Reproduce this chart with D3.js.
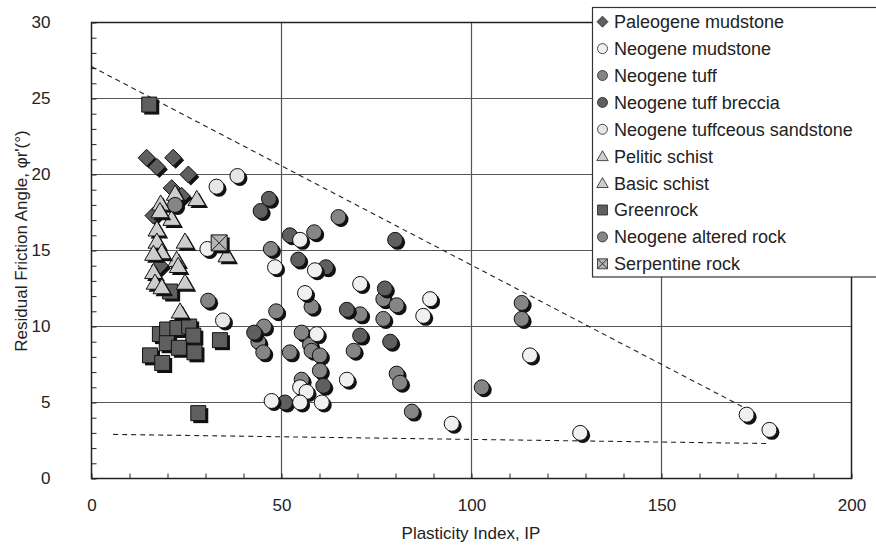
<!DOCTYPE html>
<html><head><meta charset="utf-8">
<script src="https://cdn.jsdelivr.net/npm/d3@7"></script>
<style>
body{margin:0;background:#fff;}
svg text{font-family:"Liberation Sans",Arial,sans-serif;fill:#222;}
</style></head>
<body><svg id="c" width="876" height="548"></svg>
<script>
// ---- data ----
const categories = ["Paleogene mudstone","Neogene mudstone","Neogene tuff","Neogene tuff breccia",
  "Neogene tuffceous sandstone","Pelitic schist","Basic schist","Greenrock","Neogene altered rock","Serpentine rock"];
const paleogeneMudstone = [[14.5,21.1],[17.2,20.5],[21.5,21.1],[25.5,20.0],[21.1,19.1],[23.7,18.6],[16.3,17.3],[18.0,14.0]];
const neogeneMudstone = [[30.5,15.1],[48.3,13.9],[54.9,15.7],[58.8,13.7],[56.2,12.2],[59.3,9.5],[54.9,6.0],[56.6,5.7],
  [67.2,6.5],[47.4,5.1],[54.9,5.0],[60.6,5.0],[70.7,12.8],[89.1,11.8],[87.3,10.7],[115.4,8.1],[94.8,3.6],[128.6,3.0],[172.4,4.2],[178.4,3.2]];
const neogeneTuff = [[22.0,18.0],[30.7,11.7],[65.0,17.2],[58.6,16.2],[47.2,15.1],[57.9,11.3],[48.6,11.0],[45.4,10.0],
  [55.3,9.6],[43.9,9.0],[45.2,8.3],[57.5,8.8],[57.9,8.4]];
const neogeneTuffBreccia = [[46.7,18.4],[44.5,17.6],[52.2,16.0],[54.4,14.4],[61.7,13.9],[67.2,11.1],[42.8,9.6],[70.7,9.4],
  [78.6,9.0],[61.0,6.1],[50.9,5.0],[77.2,12.5],[79.9,15.7]];
const neogeneTuffceousSandstone = [[32.9,19.2],[38.4,19.9],[34.6,10.4]];
const peliticSchist = [[22.0,18.75],[27.7,18.4],[18.2,18.1],[21.1,17.1],[17.2,16.4],[24.6,15.6],[22.4,14.4],[24.6,12.9],[23.3,11.0]];
const basicSchist = [[18.0,17.6],[17.2,15.6],[18.5,14.9],[16.3,14.8],[22.8,14.0],[16.3,13.6],[16.7,12.9],[18.5,12.6],[35.6,14.7]];
const greenrock = [[15.2,24.6],[20.7,12.3],[18.0,9.5],[19.9,9.8],[22.6,9.9],[25.7,10.0],[26.8,9.4],[19.8,8.9],[23.0,8.6],
  [27.1,8.3],[15.4,8.1],[18.6,7.6],[33.8,9.1],[28.1,4.3]];
const neogeneAlteredRock = [[52.2,8.3],[60.1,8.1],[60.1,7.1],[69.0,8.4],[55.3,6.5],[80.3,6.9],[81.2,6.3],[76.8,11.8],
  [80.3,11.4],[70.7,10.8],[76.8,10.5],[113.2,11.55],[113.2,10.5],[102.7,6.0],[84.3,4.4]];
const serpentineRock = [[33.6,15.5]];
const upperLine = [[0,27.1],[171.5,4.7]];
const lowerLine = [[5.7,2.9],[178,2.3]];
const xTicks = [0,50,100,150,200];
const yTicks = [0,5,10,15,20,25,30];

// ---- layout ----
const M = {l:91.5, t:22.5, w:760, h:456};
const svg = d3.select("#c");
const x = d3.scaleLinear().domain([0,200]).range([M.l, M.l+M.w]);
const y = d3.scaleLinear().domain([0,30]).range([M.t+M.h, M.t]);

// grid
const g = svg.append("g");
g.selectAll(".hg").data(yTicks.slice(1,-1)).join("line")
  .attr("x1",x(0)).attr("x2",x(200)).attr("y1",d=>y(d)).attr("y2",d=>y(d))
  .attr("stroke","#555").attr("stroke-width",1.2);
g.selectAll(".vg").data(xTicks.slice(1,-1)).join("line")
  .attr("y1",y(0)).attr("y2",y(30)).attr("x1",d=>x(d)).attr("x2",d=>x(d))
  .attr("stroke","#555").attr("stroke-width",1.2);

// axes with minor inward ticks
const yAx = svg.append("g").attr("transform",`translate(${M.l},0)`)
  .call(d3.axisLeft(y).tickValues(d3.range(0,31,1)).tickSize(-5).tickFormat(""));
const xAx = svg.append("g").attr("transform",`translate(0,${M.t+M.h})`)
  .call(d3.axisBottom(x).tickValues(d3.range(0,201,10)).tickSize(-5).tickFormat(""));
[yAx,xAx].forEach(a=>{a.select(".domain").remove(); a.selectAll("line").attr("stroke","#222");});
// tick labels
svg.append("g").attr("transform",`translate(${M.l},0)`)
  .call(d3.axisLeft(y).tickValues(yTicks).tickSize(0).tickPadding(41))
  .call(a=>a.select(".domain").remove())
  .selectAll("text").attr("font-size",17).attr("fill","#222");
svg.append("g").attr("transform",`translate(0,${M.t+M.h})`)
  .call(d3.axisBottom(x).tickValues(xTicks).tickSize(0).tickPadding(20))
  .call(a=>a.select(".domain").remove())
  .selectAll("text").attr("font-size",17).attr("fill","#222");
// frame
svg.append("rect").attr("x",M.l).attr("y",M.t).attr("width",M.w).attr("height",M.h)
  .attr("fill","none").attr("stroke","#222").attr("stroke-width",1.5);

// titles
svg.append("text").attr("x",471).attr("y",539).attr("text-anchor","middle").attr("font-size",17)
  .text("Plasticity Index, IP");
svg.append("text").attr("transform","translate(27,241) rotate(-90)").attr("text-anchor","middle").attr("font-size",17)
  .text("Residual Friction Angle, \u03c6r'(\u00b0)");

// dashed lines
const line = d3.line().x(d=>x(d[0])).y(d=>y(d[1]));
[upperLine,lowerLine].forEach(l=>svg.append("path").attr("d",line(l)).attr("fill","none")
  .attr("stroke","#222").attr("stroke-width",1.1).attr("stroke-dasharray","5,4"));

// markers
const DARK="#5f5f5f", MED="#858585", LIGHT="#cdcdcd", WHITE="#f0f0f0";
function shapePath(kind, s){
  // s = half size
  if(kind==="circle") return d3.symbol().type(d3.symbolCircle).size(Math.PI*s*s)();
  if(kind==="square"||kind==="xsquare") return `M${-s},${-s}H${s}V${s}H${-s}Z`;
  if(kind==="diamond") return `M0,${-s}L${s},0L0,${s}L${-s},0Z`;
  if(kind==="triangle") return `M0,${-s*1.05}L${s*1.1},${s*0.85}L${-s*1.1},${s*0.85}Z`;
}
const series = [
  {name:categories[7], data:greenrock, kind:"square", fill:DARK, s:7.5},
  {name:categories[0], data:paleogeneMudstone, kind:"diamond", fill:DARK, s:8.5},
  {name:categories[5], data:peliticSchist, kind:"triangle", fill:LIGHT, s:8},
  {name:categories[6], data:basicSchist, kind:"triangle", fill:LIGHT, s:8},
  {name:categories[2], data:neogeneTuff, kind:"circle", fill:MED, s:7.5},
  {name:categories[8], data:neogeneAlteredRock, kind:"circle", fill:MED, s:7.5},
  {name:categories[3], data:neogeneTuffBreccia, kind:"circle", fill:DARK, s:7.5},
  {name:categories[1], data:neogeneMudstone, kind:"circle", fill:WHITE, s:7.5},
  {name:categories[4], data:neogeneTuffceousSandstone, kind:"circle", fill:"#e6e6e6", s:7.5},
  {name:categories[9], data:serpentineRock, kind:"xsquare", fill:"#b5b5b5", s:8}
];
const mg = svg.append("g");
series.forEach(se=>{
  se.data.forEach(d=>{
    const gx = mg.append("g").attr("transform",`translate(${x(d[0])},${y(d[1])})`);
    gx.append("path").attr("d",shapePath(se.kind,se.s)).attr("transform","translate(2.5,2.5)").attr("fill","#111");
    gx.append("path").attr("d",shapePath(se.kind,se.s)).attr("fill",se.fill).attr("stroke","#111").attr("stroke-width",1);
    if(se.kind==="xsquare"){
      const s=se.s;
      gx.append("path").attr("d",`M${-s},${-s}L${s},${s}M${s},${-s}L${-s},${s}`).attr("stroke","#222").attr("stroke-width",1);
    }
  });
});

// legend
const legOrder = [
  {kind:"diamond", fill:DARK},{kind:"circle", fill:WHITE},{kind:"circle", fill:MED},{kind:"circle", fill:DARK},
  {kind:"circle", fill:"#e6e6e6"},{kind:"triangle", fill:LIGHT},{kind:"triangle", fill:LIGHT},{kind:"square", fill:DARK},
  {kind:"circle", fill:MED},{kind:"xsquare", fill:"#b5b5b5"}];
const lg = svg.append("g");
lg.append("rect").attr("x",592.5).attr("y",7.5).attr("width",300).attr("height",269.5)
  .attr("fill","#fff").attr("stroke","#333").attr("stroke-width",1.2);
categories.forEach((c,i)=>{
  const cy = 21.7 + i*26.9;
  const st = legOrder[i];
  const s = st.kind==="diamond"?5.5:(st.kind==="triangle"?5.2:5);
  const gi = lg.append("g").attr("transform",`translate(602.5,${cy})`);
  gi.append("path").attr("d",shapePath(st.kind,s)).attr("fill",st.fill).attr("stroke","#222").attr("stroke-width",0.8);
  if(st.kind==="xsquare") gi.append("path").attr("d",`M${-s},${-s}L${s},${s}M${s},${-s}L${-s},${s}`).attr("stroke","#222").attr("stroke-width",0.9);
  lg.append("text").attr("x",614).attr("y",cy).attr("dy","0.36em").attr("font-size",18).text(c);
});
</script></body></html>
